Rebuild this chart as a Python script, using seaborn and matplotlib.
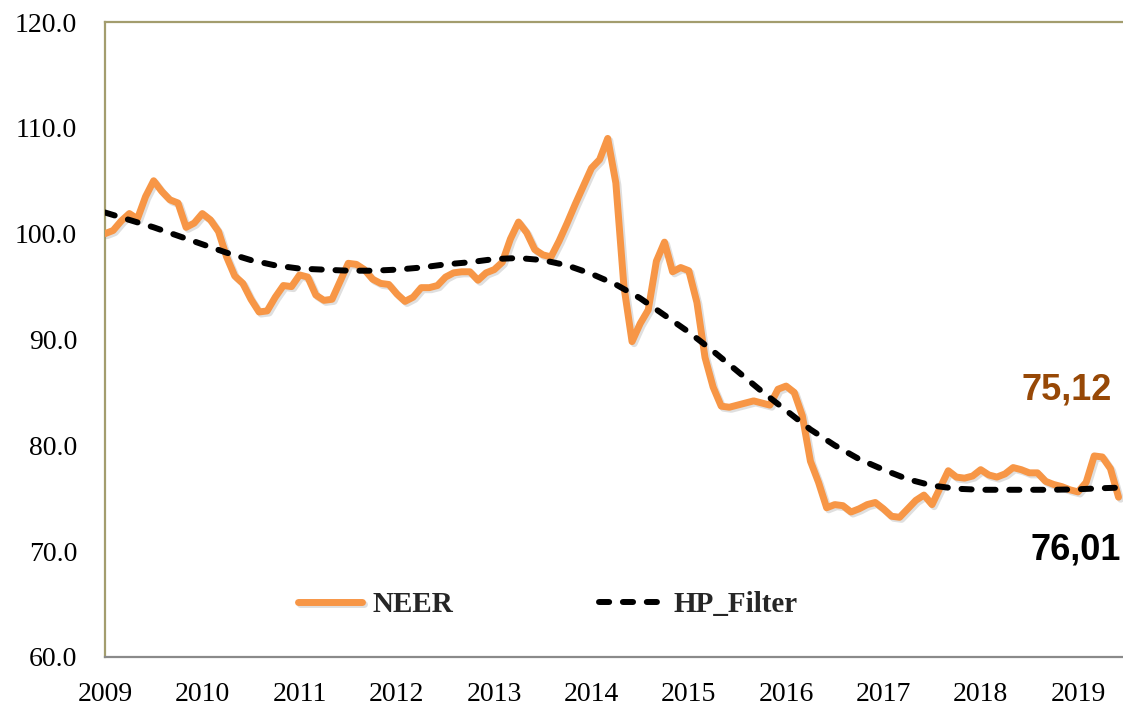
import numpy as np
import pandas as pd
import matplotlib
matplotlib.use("Agg")
import matplotlib.pyplot as plt
import matplotlib.patheffects as pe
import seaborn as sns

# ---------------- data ----------------
start_year = 2009
neer = [
    100.0, 100.3, 101.2, 101.9, 101.4, 103.5, 105.0, 104.0, 103.2, 102.9, 100.6, 101.0,
    101.9, 101.3, 100.2, 97.8, 96.0, 95.3, 93.8, 92.6, 92.7, 94.0, 95.1, 95.0,
    96.1, 95.9, 94.2, 93.7, 93.8, 95.5, 97.2, 97.1, 96.6, 95.7, 95.3, 95.2,
    94.3, 93.6, 94.0, 94.9, 94.9, 95.1, 95.9, 96.3, 96.4, 96.4, 95.6, 96.3,
    96.6, 97.3, 99.5, 101.1, 100.1, 98.5, 98.0, 97.8, 99.3, 101.0, 102.8, 104.5,
    106.2, 107.0, 109.0, 104.8, 95.0, 89.8, 91.5, 92.8, 97.4, 99.2, 96.4, 96.8,
    96.5, 93.5, 88.3, 85.5, 83.7, 83.6, 83.8, 84.0, 84.2, 84.0, 83.8, 85.3,
    85.6, 85.0, 82.8, 78.5, 76.5, 74.1, 74.4, 74.3, 73.7, 74.0, 74.4, 74.6,
    74.0, 73.3, 73.2, 74.0, 74.8, 75.3, 74.4, 76.0, 77.6, 77.0, 76.9, 77.1,
    77.7, 77.2, 77.0, 77.3, 77.9, 77.7, 77.4, 77.4, 76.6, 76.3, 76.1, 75.8,
    75.6, 76.5, 79.0, 78.9, 77.8, 75.1,
]
hp_months = [0, 3, 6, 9, 12, 15, 18, 21, 24, 27, 30, 33, 36, 39, 42, 45, 48, 51,
             54, 57, 60, 63, 66, 69, 72, 75, 78, 81, 84, 87, 90, 93, 96, 99, 102,
             105, 108, 111, 114, 117, 120, 123, 125]
hp_filter = [102.0, 101.3, 100.6, 99.8, 99.0, 98.2, 97.5, 97.0, 96.7, 96.6, 96.5,
             96.5, 96.6, 96.8, 97.1, 97.3, 97.6, 97.7, 97.5, 97.0, 96.2, 95.2,
             93.9, 92.3, 90.7, 88.9, 87.0, 85.1, 83.3, 81.5, 80.0, 78.7, 77.7,
             76.8, 76.2, 75.9, 75.8, 75.8, 75.8, 75.8, 75.85, 75.95, 76.0]
year_ticks = list(range(2009, 2020))
y_ticks = [60, 70, 80, 90, 100, 110, 120]
label_neer_last = "75,12"
label_hp_last = "76,01"

df_neer = pd.DataFrame({"t": start_year + np.arange(len(neer)) / 12.0, "v": neer})
df_hp = pd.DataFrame({"t": start_year + np.array(hp_months) / 12.0, "v": hp_filter})

# ---------------- style ----------------
sns.set_theme(style="white")
plt.rcParams["font.family"] = ["Liberation Serif", "DejaVu Serif"]

fig = plt.figure(figsize=(11.23, 7.08), dpi=100)
ax = fig.add_axes([105 / 1123, 1 - 657 / 708, 1 - 105 / 1123, (657 - 22) / 708])

orange = "#F79646"
sns.lineplot(data=df_neer, x="t", y="v", ax=ax, color=orange, linewidth=5.0,
             label="NEER", solid_joinstyle="round", zorder=3,
             path_effects=[pe.SimpleLineShadow(offset=(1.5, -1.5), alpha=0.25, shadow_color="gray"),
                           pe.Normal()])
sns.lineplot(data=df_hp, x="t", y="v", ax=ax, color="black", linewidth=4.3,
             label="HP_Filter", zorder=4)
ax.lines[-1].set_dashes((1.7, 2.3))
ax.lines[-1].set_dash_capstyle("round")

ax.set_xlim(2009, 2009 + 1018 / 97.3)
ax.set_ylim(60, 120)
ax.set_xticks(year_ticks)
ax.set_xticklabels([str(y) for y in year_ticks])
ax.set_yticks(y_ticks)
ax.set_yticklabels([f"{v:.1f}" for v in y_ticks])
ax.tick_params(axis="both", length=0, labelsize=20, colors="black")
ax.tick_params(axis="y", pad=20)
ax.tick_params(axis="x", pad=18)
ax.set_xlabel("")
ax.set_ylabel("")

olive = "#A39D6E"
ax.spines["left"].set_color(olive)
ax.spines["top"].set_color(olive)
ax.spines["bottom"].set_color("#8A8A8A")
for s in ["left", "top", "bottom"]:
    ax.spines[s].set_linewidth(1.6)
ax.spines["right"].set_visible(False)

leg = ax.legend(loc="center", bbox_to_anchor=(0.435, 0.082), ncol=2, frameon=False,
                handlelength=2.2, handletextpad=0.35, columnspacing=5.0,
                prop={"family": ["Liberation Serif"], "weight": "bold", "size": 21})

ax.text(2009 + (1067 - 105) / 97.3, 120 - (390 - 22) / 10.58, label_neer_last,
        color="#974806", fontsize=26, fontweight="bold", family=["Liberation Sans"],
        ha="center", va="center")
ax.text(2009 + (1076 - 105) / 97.3, 120 - (550 - 22) / 10.58, label_hp_last,
        color="black", fontsize=26, fontweight="bold", family=["Liberation Sans"],
        ha="center", va="center")

fig.savefig("out.png", dpi=100)
